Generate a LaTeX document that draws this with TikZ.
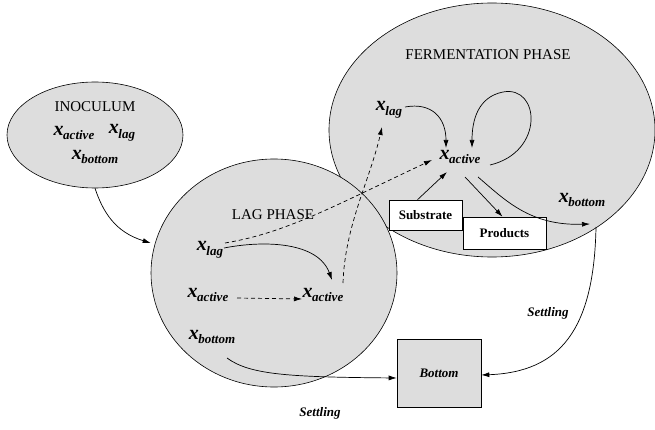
\documentclass[tikz,border=0pt]{standalone}
\usepackage{fontspec}
\setmainfont{Liberation Serif}
\usetikzlibrary{shapes.geometric,arrows.meta,calc}
\definecolor{bggray}{RGB}{221,221,221}
\newcommand{\xvar}[1]{{\fontsize{20}{20}\selectfont\bfseries\itshape x}\kern-0.5pt\raisebox{-4.5pt}{\fontsize{13}{13}\selectfont\bfseries\itshape #1}}
\tikzset{
  phase/.style={ellipse, draw=black, line width=0.6pt, fill=bggray, inner sep=0pt},
  title/.style={font=\fontsize{15}{15}\selectfont, inner sep=0pt},
  var/.style={inner sep=1pt},
  whitebox/.style={draw=black, line width=0.6pt, fill=white, font=\fontsize{13}{13}\selectfont\bfseries, inner sep=0pt},
  graybox/.style={draw=black, line width=0.6pt, fill=bggray, font=\fontsize{13}{13}\selectfont\bfseries\itshape, inner sep=0pt},
  lbl/.style={font=\fontsize{13}{13}\selectfont\bfseries\itshape, inner sep=0pt},
  arr/.style={line width=0.7pt, -{Latex[length=8pt,width=5pt]}},
  darr/.style={arr, dashed, dash pattern=on 4pt off 3pt},
}
\begin{document}
\begin{tikzpicture}[x=1pt,y=-1pt]
\useasboundingbox (0,0) rectangle (655,430);
% ellipses
\node[phase, minimum width=326pt, minimum height=254pt] (ferm) at (492,130) {};
\node[phase, minimum width=246pt, minimum height=228pt] (lag) at (274,273) {};
\node[phase, minimum width=176pt, minimum height=106pt] (inoc) at (95,135) {};
% titles
\node[title] (tinoc) at (95,107) {INOCULUM};
\node[title] (tlag) at (273,215) {LAG PHASE};
\node[title] (tferm) at (488,55) {FERMENTATION PHASE};
% inoculum variables
\node[var] (ia) at (74,133) {\xvar{active}};
\node[var] (il) at (122,133) {\xvar{lag}};
\node[var] (ib) at (95,157) {\xvar{bottom}};
% lag phase variables
\node[var] (ll) at (210,250) {\xvar{lag}};
\node[var] (la1) at (208,295) {\xvar{active}};
\node[var] (la2) at (323,295) {\xvar{active}};
\node[var] (lb) at (212,337) {\xvar{bottom}};
% fermentation variables
\node[var] (fl) at (389,110) {\xvar{lag}};
\node[var] (fa) at (460,157) {\xvar{active}};
\node[var] (fb) at (582,200) {\xvar{bottom}};
% boxes
\node[whitebox, minimum width=73pt, minimum height=30pt] (sub) at (425.5,215) {Substrate};
\node[whitebox, minimum width=83pt, minimum height=32pt] (prod) at (504.5,233) {Products};
\node[graybox, minimum width=84pt, minimum height=68pt] (bot) at (439,373) {Bottom};
% labels
\node[lbl] (s1) at (320,413) {Settling};
\node[lbl] (s2) at (548,313) {Settling};
% coordinates
\coordinate (c1) at (224,248);
\coordinate (c2) at (225,243);
\coordinate (c3) at (343,283);
\coordinate (c4) at (405,107);
\coordinate (c5) at (490,165);
\coordinate (c6) at (478,177);
\coordinate (c7) at (465,177);
\coordinate (c8) at (596,227);
\coordinate (c9) at (227,358);
\coordinate (c10) at (237,298);
% arrows
\draw[arr] (inoc.south) .. controls (103,212) and (115,232) .. (lag.west |- 0,243);
\draw[arr] (c1) .. controls (265,240) and (318,242) .. (332,280);
\draw[darr] (c10) -- (302,299);
\draw[darr] (c2) .. controls (285,233) and (330,208) .. (432,160);
\draw[darr] (c3) .. controls (345,225) and (370,180) .. (382,127);
\draw[arr] (c4) .. controls (432,102) and (446,118) .. (446,148);
\draw[arr] (c5) .. controls (545,152) and (540,85) .. (503,92) .. controls (478,97) and (472,120) .. (472,148);
\draw[arr] ($(sub.north)+(-8,0)$) -- (447,172);
\draw[arr] (c7) -- ($(prod.north)+(-2,0)$);
\draw[arr] (c6) .. controls (505,200) and (530,226) .. (590,224);
\draw[arr] (c8) .. controls (594,330) and (560,372) .. (bot.east |- 0,375);
\draw[arr] (c9) .. controls (250,375) and (290,377) .. (bot.west |- 0,378);
\end{tikzpicture}
\end{document}
